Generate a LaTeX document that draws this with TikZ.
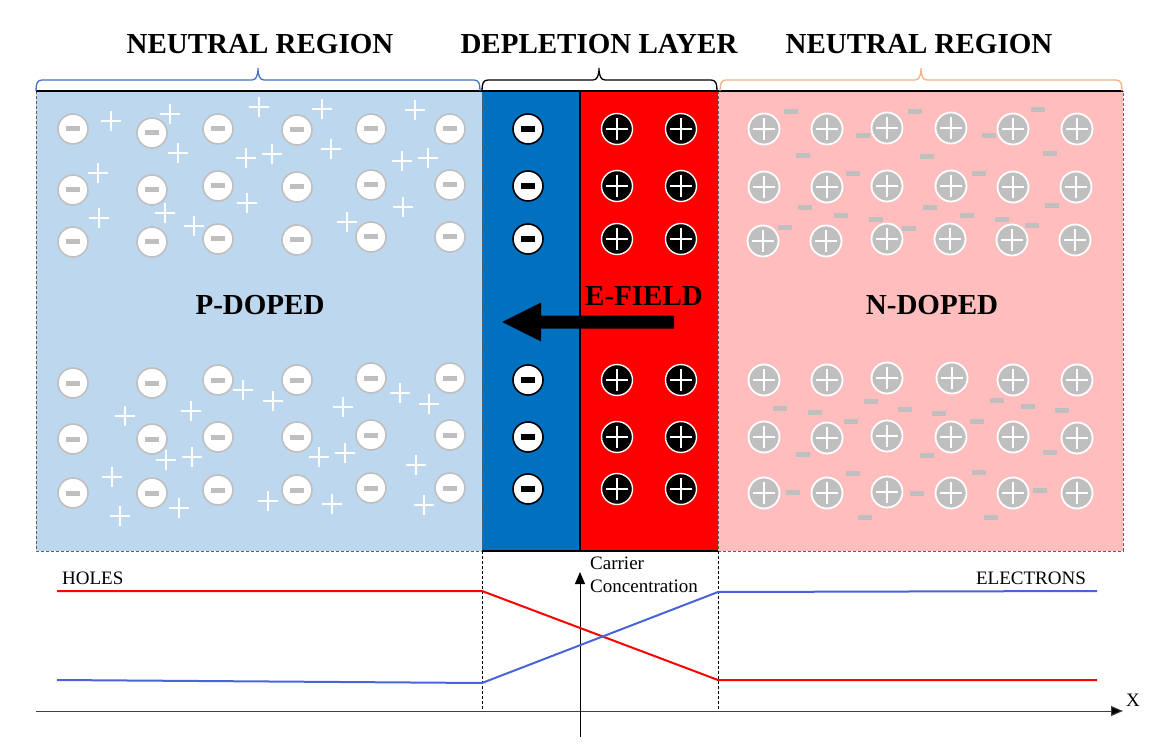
\documentclass[tikz,border=0pt]{standalone}
\usepackage{fontspec}
\setmainfont{Liberation Serif}
\usetikzlibrary{arrows.meta,calc}
\definecolor{pblue}{HTML}{BDD7EE}
\definecolor{dblue}{HTML}{0070C0}
\definecolor{dred}{HTML}{FF0000}
\definecolor{npink}{HTML}{FFBDBD}
\definecolor{iongray}{HTML}{BFBFBF}
\definecolor{braceblue}{HTML}{4472C4}
\definecolor{braceorange}{HTML}{F4B183}
\definecolor{eblue}{HTML}{4A64D8}
\definecolor{borderdark}{HTML}{606060}
\tikzset{
  pneg/.style={circle, inner sep=0pt, minimum size=30pt, fill=white, draw=iongray, line width=1.6pt,
    path picture={\fill[iongray] ([xshift=-7pt,yshift=-2.5pt]path picture bounding box.center) rectangle ([xshift=7pt,yshift=2.5pt]path picture bounding box.center);}},
  dneg/.style={circle, inner sep=0pt, minimum size=30pt, fill=white, draw=black, line width=1.6pt,
    path picture={\fill[black] ([xshift=-7pt,yshift=-3pt]path picture bounding box.center) rectangle ([xshift=7pt,yshift=3pt]path picture bounding box.center);}},
  dpos/.style={circle, inner sep=0pt, minimum size=31pt, fill=black, draw=white, line width=1.4pt,
    path picture={\draw[white,line width=2pt] ([xshift=-11pt]path picture bounding box.center) -- ([xshift=11pt]path picture bounding box.center) ([yshift=-11pt]path picture bounding box.center) -- ([yshift=11pt]path picture bounding box.center);}},
  npos/.style={circle, inner sep=0pt, minimum size=31pt, fill=iongray, draw=white, line width=1.8pt,
    path picture={\draw[white,line width=2.5pt] ([xshift=-11pt]path picture bounding box.center) -- ([xshift=11pt]path picture bounding box.center) ([yshift=-11pt]path picture bounding box.center) -- ([yshift=11pt]path picture bounding box.center);}},
  hole/.style={rectangle, inner sep=0pt, minimum size=20pt,
    path picture={\draw[white,line width=2pt] ([xshift=-10pt]path picture bounding box.center) -- ([xshift=10pt]path picture bounding box.center) ([yshift=-10pt]path picture bounding box.center) -- ([yshift=10pt]path picture bounding box.center);}},
  electron/.style={rectangle, inner sep=0pt, minimum width=14pt, minimum height=5pt, fill=iongray},
  regborder/.style={draw=borderdark, line width=0.8pt, dash pattern=on 3pt off 2pt},
  bracepath/.style={line width=1.3pt},
  heading/.style={font=\fontsize{29}{33}\selectfont\bfseries, inner sep=0pt},
  small/.style={font=\fontsize{19}{23}\selectfont, inner sep=0pt},
  curve/.style={line width=2pt},
  vline/.style={black, line width=0.8pt, dash pattern=on 3pt off 2pt},
}
\begin{document}
\begin{tikzpicture}[x=1pt,y=-1pt]
\useasboundingbox (0,0) rectangle (1154,754);
% regions
\fill[pblue] (36,91) rectangle (482,551);
\fill[dblue] (482,91) rectangle (580,551);
\fill[dred] (580,91) rectangle (718,551);
\fill[npink] (718,91) rectangle (1123,551);
\draw[regborder] (36,91) rectangle (482,551);
\draw[regborder] (718,91) rectangle (1123,551);
\draw[black, line width=1.3pt] (36,91) -- (1123,91);
\draw[black, line width=1.3pt] (482,551) -- (718,551);
\draw[black, line width=1.3pt] (580,91) -- (580,551);
% braces
\draw[bracepath, braceblue] (36,91) .. controls (36,84) and (37,80) .. (42,80) -- (252,80) .. controls (256,80) and (258,76) .. (258,68) .. controls (258,76) and (260,80) .. (264,80) -- (474,80) .. controls (479,80) and (480,84) .. (480,91);
\draw[bracepath, black] (482,91) .. controls (482,84) and (483,80) .. (488,80) -- (593,80) .. controls (597,80) and (599,76) .. (599,68) .. controls (599,76) and (601,80) .. (605,80) -- (711,80) .. controls (716,80) and (717,84) .. (717,91);
\draw[bracepath, braceorange] (720,91) .. controls (720,84) and (721,80) .. (726,80) -- (915,80) .. controls (919,80) and (921,76) .. (921,68) .. controls (921,76) and (923,80) .. (927,80) -- (1116,80) .. controls (1121,80) and (1122,84) .. (1122,91);
% headings
\node[heading] (nl) at (260,44) {NEUTRAL REGION};
\node[heading] (dl) at (599,44) {DEPLETION LAYER};
\node[heading] (nr) at (919,44) {NEUTRAL REGION};
% P ions
\foreach \x/\y [count=\i] in {73/129,152/133,218/129,297/130,371/129,450/129,
73/190,152/190,218/186,297/187,371/185,450/185,
73/242,152/242,218/239,297/240,371/237,450/237,
73/383,152/383,218/380,297/380,371/378,450/378,
73/439,152/439,218/437,297/437,371/435,450/435,
73/493,152/493,218/490,297/490,371/488,450/488}
  \node[pneg] (pi\i) at (\x,\y) {};
% holes
\foreach \x/\y [count=\i] in {111/121,170/114,259/107,322/109,415/110,178/153,246/158,272/154,331/149,402/161,428/158,98/173,247/203,403/207,99/218,165/213,194/226,347/222,
243/390,273/401,400/393,429/404,125/416,191/411,343/407,166/460,192/457,319/457,345/453,416/465,112/477,120/516,179/508,268/501,332/504,424/505}
  \node[hole] (ho\i) at (\x,\y) {};
% depletion ions
\foreach \y [count=\i] in {129,186,239,380,437,489} {
  \node[dneg] (dn\i) at (528,\y) {};
  \node[dpos] (dpa\i) at (617,\y) {};
  \node[dpos] (dpb\i) at (681,\y) {};
}
% N ions
\foreach \x/\y [count=\i] in {764/129,827/129,887/128,951/128,1013/129,1077/129,
764/187,827/187,887/186,951/186,1013/187,1076/187,
763/241,826/241,887/239,950/239,1012/240,1075/240,
764/380,827/380,887/378,952/378,1013/380,1077/380,
764/437,827/438,887/436,951/437,1013/437,1077/438,
764/493,827/493,887/492,951/493,1013/493,1077/493}
  \node[npos] (ni\i) at (\x,\y) {};
% electrons
\foreach \x/\y [count=\i] in {791/112,915/112,1038/110,863/136,989/136,803/156,927/157,1050/154,853/174,979/174,805/208,930/208,1052/206,841/216,876/220,967/216,1002/220,785/228,909/229,1032/226,
780/408,815/412,871/401,905/409,939/413,997/400,1028/406,1062/410,851/421,977/421,803/454,927/455,1050/452,853/473,979/472,793/492,917/493,1040/490,865/517,991/517}
  \node[electron] (el\i) at (\x,\y) {};
% labels in regions
\node[heading] (pd) at (260,305) {P-DOPED};
\node[heading] (nd) at (932,305) {N-DOPED};
\node[heading] (ef) at (644,296) {E-FIELD};
% E-field arrow
\coordinate (eft) at (502,322);
\coordinate (efs) at (674,322);
\fill[black] ($(efs)+(0,-6.5)$) -- ($(eft)+(39,-6.5)$) -- ($(eft)+(39,-19.5)$) -- (eft) -- ($(eft)+(39,19.5)$) -- ($(eft)+(39,6.5)$) -- ($(efs)+(0,6.5)$) -- cycle;
% lower graph
\coordinate (vl0) at (482,551); \coordinate (vl1) at (482,711);
\coordinate (vr0) at (718,551); \coordinate (vr1) at (718,711);
\draw[vline] (vl0) -- (vl1);
\draw[vline] (vr0) -- (vr1);
\coordinate (xa0) at (36,711); \coordinate (xa1) at (1123,711);
\draw[black!75, line width=1pt, -{Triangle[length=12pt,width=10pt,fill=black]}] (xa0) -- (xa1);
\coordinate (ya0) at (580,737); \coordinate (ya1) at (580,572);
\draw[black, line width=1pt, -{Triangle[length=12pt,width=10pt]}] (ya0) -- (ya1);
\coordinate (h1) at (57,591); \coordinate (h2) at (482,591); \coordinate (h3) at (718,680); \coordinate (h4) at (1097,680);
\draw[curve, dred] (h1) -- (h2) -- (h3) -- (h4);
\coordinate (e1) at (57,680); \coordinate (e2) at (482,683); \coordinate (e3) at (718,592); \coordinate (e4) at (1097,591);
\draw[curve, eblue] (e1) -- (e2) -- (e3) -- (e4);
\node[small, anchor=west] (holes) at (62,578) {HOLES};
\node[small, anchor=east] (elec) at (1086,578) {ELECTRONS};
\node[small, anchor=north west, align=left] (cc) at (590,557) {Carrier\\Concentration};
\node[small] (xl) at (1133,700) {X};
\end{tikzpicture}
\end{document}
